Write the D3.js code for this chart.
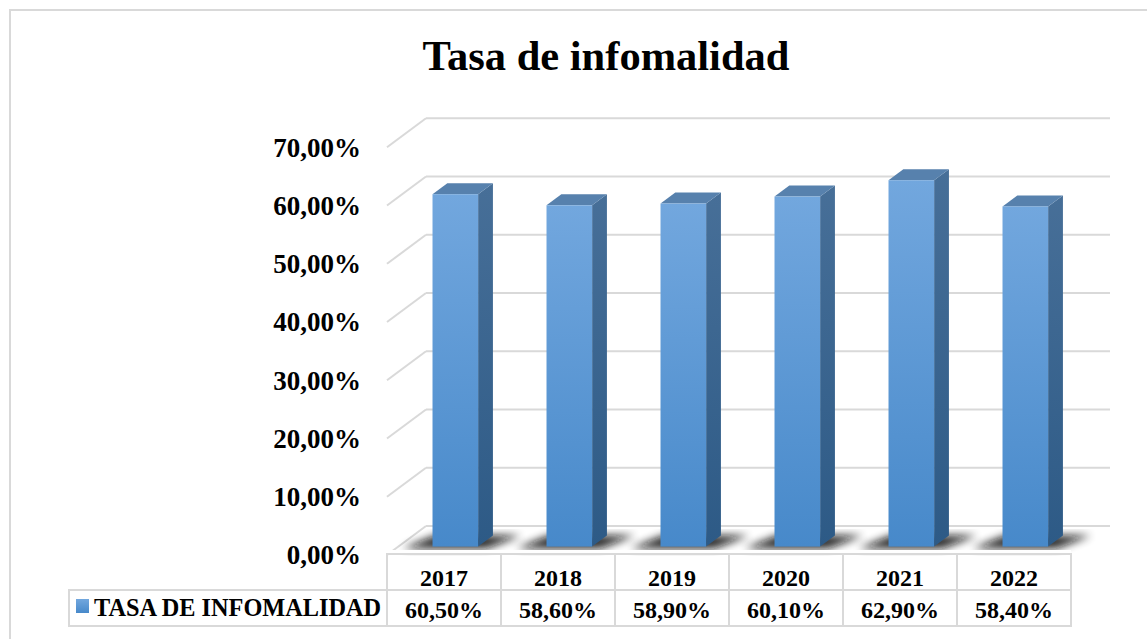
<!DOCTYPE html>
<html>
<head>
<meta charset="utf-8">
<script src="https://cdn.jsdelivr.net/npm/d3@7"></script>
<style>
  body { margin: 0; background: #fff; }
  text { font-family: "Liberation Serif", "Times New Roman", serif; font-weight: bold; fill: #000; }
</style>
</head>
<body>
<div id="vis"></div>
<script>
const years = ['2017', '2018', '2019', '2020', '2021', '2022']
const values = [0.605, 0.586, 0.589, 0.601, 0.629, 0.584]
const yTicks = [0, 0.1, 0.2, 0.3, 0.4, 0.5, 0.6, 0.7]
const seriesName = 'TASA DE INFOMALIDAD'
const chartTitle = 'Tasa de infomalidad'

const W = 1147, H = 639
const DX = 39, DY = 29           // depth of the 3d box
const f1 = 0.29, f2 = 0.67       // bar front / back depth fractions

const fmt = v => d3.format('.2f')(v * 100).replace('.', ',') + '%'

let svg = d3.select('#vis').append('svg')
    .attr('width', W)
    .attr('height', H)

let defs = svg.append('defs')
let gFront = defs.append('linearGradient').attr('id', 'gFront').attr('x1', 0).attr('y1', 0).attr('x2', 0).attr('y2', 1)
gFront.append('stop').attr('offset', '0%').attr('stop-color', '#72a7de')
gFront.append('stop').attr('offset', '100%').attr('stop-color', '#4789ca')
let gSide = defs.append('linearGradient').attr('id', 'gSide').attr('x1', 0).attr('y1', 0).attr('x2', 0).attr('y2', 1)
gSide.append('stop').attr('offset', '0%').attr('stop-color', '#476f98')
gSide.append('stop').attr('offset', '100%').attr('stop-color', '#2d5a86')
let gLeg = defs.append('linearGradient').attr('id', 'gLeg').attr('x1', 0).attr('y1', 0).attr('x2', 0).attr('y2', 1)
gLeg.append('stop').attr('offset', '0%').attr('stop-color', '#72a7de')
gLeg.append('stop').attr('offset', '100%').attr('stop-color', '#4789ca')
defs.append('filter').attr('id', 'blur').attr('x', '-50%').attr('y', '-50%').attr('width', '200%').attr('height', '200%')
    .append('feGaussianBlur').attr('stdDeviation', 4)

// outer frame
svg.append('rect')
    .attr('x', 10).attr('y', 10)
    .attr('width', 1160).attr('height', 660)
    .attr('fill', 'none').attr('stroke', '#d9d9d9').attr('stroke-width', 2)

// title
svg.append('text')
    .attr('x', 606).attr('y', 70)
    .attr('text-anchor', 'middle')
    .attr('font-size', '42.5px')
    .text(chartTitle)

// scales
let x = d3.scaleBand(years, [387, 1071])
let yBack = d3.scaleLinear([0, 0.7], [526, 118.3])
const yAt = (v, f) => yBack(v) + DY * (1 - f)
const xShift = f => DX * f
let r = x.range()

// grid: back wall + left wall lines
let grid = svg.append('g').attr('class', 'grid')
    .attr('stroke', '#d9d9d9').attr('stroke-width', 2).attr('fill', 'none')
grid.selectAll('.back')
    .data(yTicks)
    .join('line')
    .attr('x1', r[0] + DX).attr('x2', r[1] + DX)
    .attr('y1', d => yBack(d)).attr('y2', d => yBack(d))
grid.selectAll('.side')
    .data(yTicks)
    .join('line')
    .attr('x1', r[0]).attr('x2', r[0] + DX)
    .attr('y1', d => yAt(d, 0)).attr('y2', d => yBack(d))

// y labels
svg.selectAll('.ylab')
    .data(yTicks)
    .join('text')
    .attr('class', 'ylab')
    .attr('x', 361)
    .attr('y', d => yAt(d, 0))
    .attr('dy', '0.35em')
    .attr('text-anchor', 'end')
    .attr('font-size', '27px')
    .text(fmt)

// bars
let bw = x.bandwidth() * 0.4
let bars = svg.selectAll('.bar')
    .data(years.map((yr, i) => ({yr, v: values[i]})))
    .join('g')
    .attr('class', 'bar')

bars.each(function(d) {
    let g = d3.select(this)
    let cx = x(d.yr) + x.bandwidth() / 2
    let x0 = cx - bw / 2 + xShift(f1), x1 = x0 + bw
    let sx = xShift(f2) - xShift(f1), sy = DY * (f2 - f1)
    let yb = yAt(0, f1), yt = yAt(d.v, f1)
    // shadow on the floor
    g.append('path')
        .attr('d', `M${x0 - 30},${yb + 2}L${x1 + 8},${yb + 2}L${x1 + sx + 28},${yb - sy}L${x0 + sx - 12},${yb - sy}Z`)
        .attr('fill', '#111').attr('opacity', 0.9)
        .attr('filter', 'url(#blur)')
    // side
    g.append('path')
        .attr('d', `M${x1},${yt}L${x1 + sx},${yt - sy}L${x1 + sx},${yb - sy}L${x1},${yb}Z`)
        .attr('fill', 'url(#gSide)')
    // top
    g.append('path')
        .attr('d', `M${x0},${yt}L${x1},${yt}L${x1 + sx},${yt - sy}L${x0 + sx},${yt - sy}Z`)
        .attr('fill', '#5781ad')
    // front
    g.append('rect')
        .attr('x', x0).attr('y', yt)
        .attr('width', bw).attr('height', yb - yt)
        .attr('fill', 'url(#gFront)')
})

// data table
let tTop = 554, rowH = 36
let table = svg.append('g').attr('class', 'table')
table.append('rect')
    .attr('x', r[0]).attr('y', tTop - 4)
    .attr('width', r[1] - r[0]).attr('height', 4)
    .attr('fill', '#fff')
table.selectAll('.cell')
    .data(years)
    .join('rect')
    .attr('x', d => x(d)).attr('y', tTop)
    .attr('width', x.bandwidth()).attr('height', rowH * 2)
    .attr('fill', 'none').attr('stroke', '#d9d9d9').attr('stroke-width', 2)
table.append('line')
    .attr('x1', 69).attr('x2', r[1])
    .attr('y1', tTop + rowH).attr('y2', tTop + rowH)
    .attr('stroke', '#d9d9d9').attr('stroke-width', 2)
table.append('rect')
    .attr('x', 69).attr('y', tTop + rowH)
    .attr('width', r[0] - 69).attr('height', rowH)
    .attr('fill', 'none').attr('stroke', '#d9d9d9').attr('stroke-width', 2)

table.selectAll('.yr')
    .data(years)
    .join('text')
    .attr('x', d => x(d) + x.bandwidth() / 2)
    .attr('y', tTop + 32)
    .attr('text-anchor', 'middle')
    .attr('font-size', '24px')
    .text(d => d)

table.selectAll('.val')
    .data(values)
    .join('text')
    .attr('x', (d, i) => x(years[i]) + x.bandwidth() / 2)
    .attr('y', tTop + 64)
    .attr('text-anchor', 'middle')
    .attr('font-size', '24px')
    .text(fmt)

table.append('rect')
    .attr('x', 76).attr('y', 599)
    .attr('width', 13).attr('height', 14)
    .attr('fill', 'url(#gLeg)')
table.append('text')
    .attr('x', 94).attr('y', 616)
    .attr('font-size', '24.3px')
    .text(seriesName)
</script>
</body>
</html>
